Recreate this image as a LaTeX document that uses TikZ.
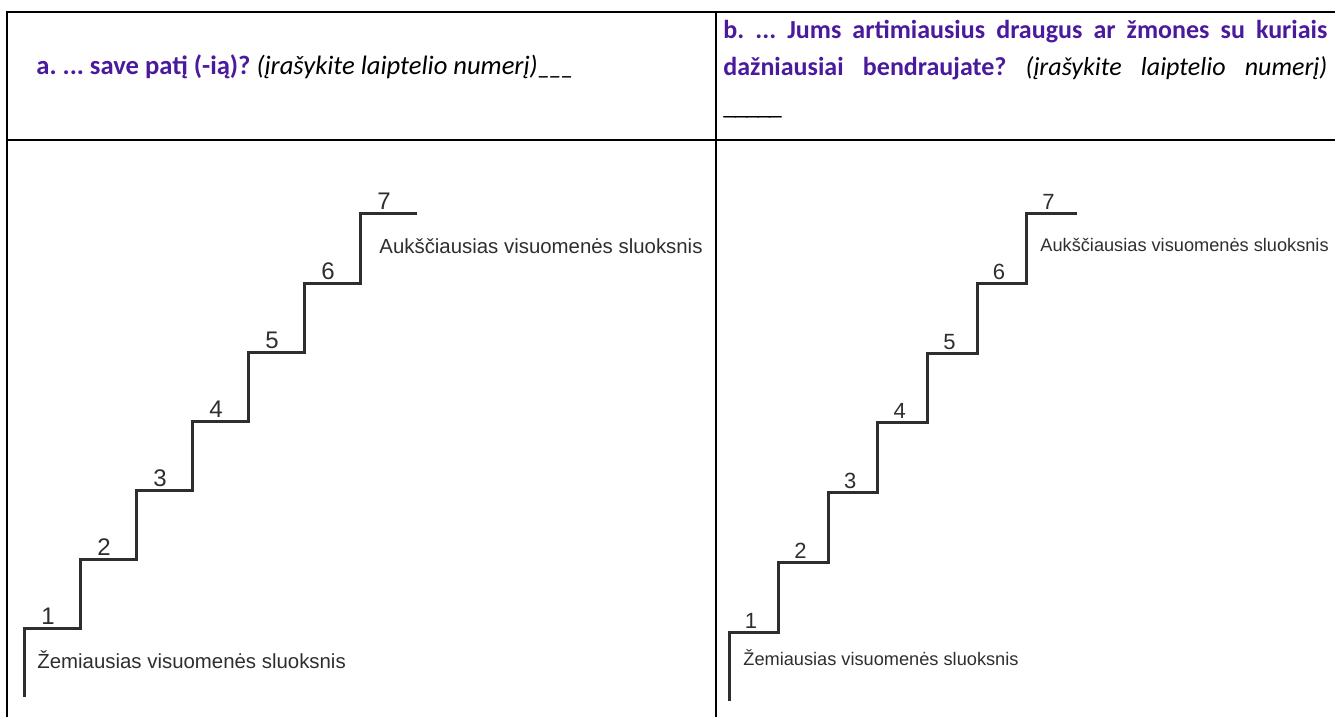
\documentclass[tikz,border=0pt]{standalone}
\usepackage{fontspec}
\setmainfont{Carlito}
\newfontfamily\stairfont{Liberation Sans}
\usepackage{tikz}
\frenchspacing
\definecolor{question purple}{HTML}{4A1A9C}
\definecolor{stair grey}{HTML}{2E2E2E}
\newcommand{\blankline}[1]{\foreach \k in {1,...,#1}{\_\kern-0.06em}}
\tikzset{
    rule/.style={line width=1.1pt},
    stair/.style={line width=1.5pt, draw=stair grey, line join=miter},
    head/.style={inner sep=0pt, font=\fontsize{13}{18.5}\selectfont},
    stepnum/.style={inner sep=0pt, anchor=base, text=stair grey},
    layer/.style={inner sep=0pt, anchor=base west, text=stair grey},
}

\begin{document}
\begin{tikzpicture}[x=0.5pt, y=-0.5pt]
        \useasboundingbox (0,0) rectangle (1335,717);
        % table frame
        \draw[rule] (7,725) -- (7,12) -- (1340,12);
        \draw[rule] (7,140) -- (1340,140);
        \draw[rule] (716,12) -- (716,725);
        % questions
        \node[head, anchor=base west, font=\fontsize{13.3}{18.5}\selectfont] (qa) at (36,75) {\textbf{\color{question purple}a. ... save patį (-ią)?} \textit{(įrašykite laiptelio numerį)\blankline{3}}};
        \node[head, anchor=base west, text width=302pt, align=justify] (qb) at (723,39) {\textbf{\color{question purple}b. ... Jums artimiausius draugus ar žmones su kuriais\linebreak dažniausiai bendraujate?} \textit{(įrašykite laiptelio numerį)}\linebreak};
        \node[head, anchor=base west] (qbline) at (723,115) {\blankline{5}};
        % left staircase
        \begin{scope}[shift={(24,628)}]
            \draw[stair] (0,69) -- (0,0) \foreach \i in {1,...,6} { -- ++(56,0) -- ++(0,-69) } -- ++(57,0);
            \foreach \n in {1,...,7} {
                \node[stepnum, font=\stairfont\fontsize{12}{14}\selectfont] (la\n) at ({(\n-1)*56+24}, {-(\n-1)*69-4}) {\n};
            }
            \node[layer, font=\stairfont\fontsize{10.2}{12}\selectfont] (lowa) at (13,40) {Žemiausias visuomenės sluoksnis};
            \node[layer, font=\stairfont\fontsize{10.2}{12}\selectfont] (higha) at (355,-374) {Aukščiausias visuomenės sluoksnis};
        \end{scope}
        % right staircase
        \begin{scope}[shift={(729,632)}]
            \draw[stair] (0,69) -- (0,0) \foreach \i in {1,...,6} { -- ++(49.6,0) -- ++(0,-69.7) } -- ++(50,0);
            \foreach \n in {1,...,7} {
                \node[stepnum, font=\stairfont\fontsize{11}{13}\selectfont] (lb\n) at ({(\n-1)*49.6+22}, {-(\n-1)*69.7-4}) {\n};
            }
            \node[layer, font=\stairfont\fontsize{9.1}{11}\selectfont] (lowb) at (14,33) {Žemiausias visuomenės sluoksnis};
            \node[layer, font=\stairfont\fontsize{9.1}{11}\selectfont] (highb) at (311,-381) {Aukščiausias visuomenės sluoksnis};
        \end{scope}
\end{tikzpicture}
\end{document}
